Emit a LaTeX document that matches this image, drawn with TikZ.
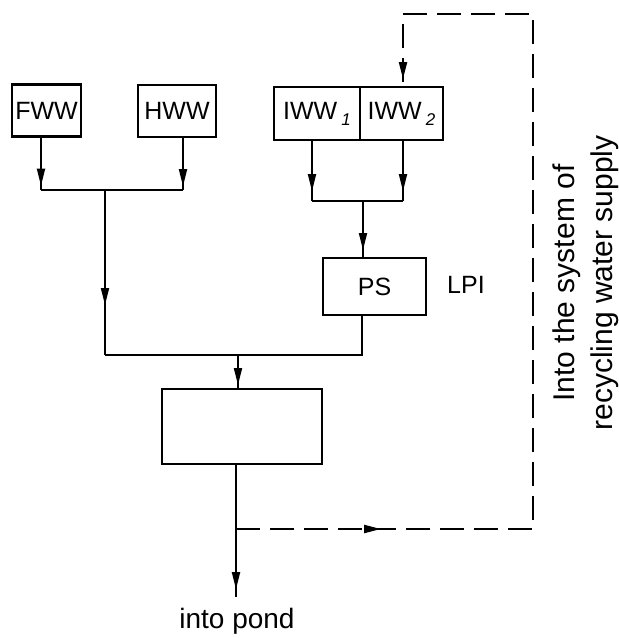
\documentclass[tikz,border=0pt]{standalone}
\usepackage{fontspec}
\setmainfont{Liberation Sans}
\usetikzlibrary{arrows.meta,decorations.markings}

\begin{document}
\begin{tikzpicture}[x=1pt,y=-1pt,
    unit/.style={draw,line width=2.4pt,minimum height=53pt,inner sep=0pt,font=\fontsize{25}{28}\selectfont},
    pipe/.style={line width=1.8pt},
    back/.style={line width=2.2pt,dash pattern=on 24pt off 10pt},
    tipat/.style={postaction={decorate,decoration={markings,mark=at position #1 with {\arrow{Triangle[length=17pt,width=8pt]}}}}}]
                \useasboundingbox (0,0) rectangle (619,638);

                \node[unit,minimum width=69pt,minimum height=52pt] (fww) at (46.5,110.5) {FWW};
                \node[unit,minimum width=78pt,minimum height=52pt] (hww) at (177,111) {HWW};
                \node[unit,minimum width=86pt] (iww1) at (317,113.5) {IWW\,\raisebox{-6pt}{\itshape\fontsize{17}{17}\selectfont 1}};
                \node[unit,minimum width=83pt] (iww2) at (401.5,113.5) {IWW\,\raisebox{-6pt}{\itshape\fontsize{17}{17}\selectfont 2}};
                \node[unit,minimum width=103pt,minimum height=57pt] (ps) at (374.5,286.5) {PS};
                \node[unit,minimum width=160pt,minimum height=75pt] (tank) at (242,426.5) {};

                \node[font=\fontsize{25}{28}\selectfont] (lpi) at (466,285) {LPI};
                \node[font=\fontsize{28}{30}\selectfont] (pond) at (237,621) {into pond};
                \node[rotate=90,align=center,font=\fontsize{30}{38}\selectfont] (note) at (586,283) {Into the system of\\recycling water supply};

                \coordinate (fl) at (41,190);
                \coordinate (hr) at (183,190);
                \coordinate (fh) at (105,190);
                \coordinate (il) at (312,201);
                \coordinate (ir) at (403,201);
                \coordinate (ic) at (363,201);
                \coordinate (ml) at (105,355);
                \coordinate (mr) at (362,355);
                \coordinate (mc) at (238,355);
                \coordinate (br) at (236,529);
                \coordinate (out) at (236,597);
                \coordinate (rb) at (533,529);
                \coordinate (rt) at (533,14);
                \coordinate (lt) at (403,14);

                % solid flow
                \draw[pipe,tipat=48pt] (fl |- fww.south) -- (fl);
                \draw[pipe,tipat=48pt] (hr |- hww.south) -- (hr);
                \draw[pipe] (fl) -- (hr);
                \draw[pipe,tipat=115pt] (fh) -- (ml);
                \draw[pipe,tipat=50pt] (il |- iww1.south) -- (il);
                \draw[pipe,tipat=50pt] (ir |- iww2.south) -- (ir);
                \draw[pipe] (il) -- (ir);
                \draw[pipe,tipat=49pt] (ic) -- (ic |- ps.north);
                \draw[pipe] (mr |- ps.south) -- (mr) -- (ml);
                \draw[pipe,tipat=30pt] (mc) -- (mc |- tank.north);
                \draw[pipe,tipat=124pt] (br |- tank.south) -- (out);

                % recycling loop
                \draw[back,tipat=145pt,tipat=1007pt] (br) -- (rb) -- (rt) -- (lt) -- (lt |- iww2.north);
\end{tikzpicture}
\end{document}
